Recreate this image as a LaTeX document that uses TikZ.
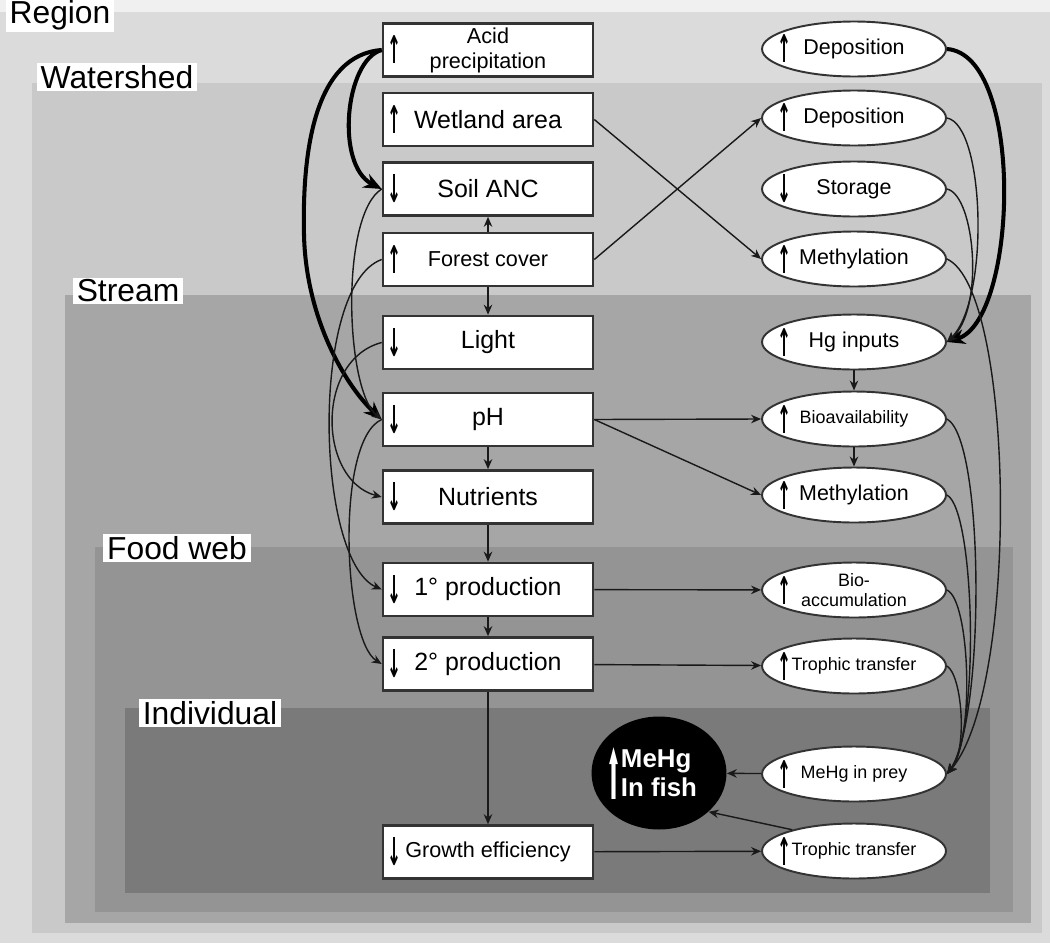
\documentclass[tikz,border=0pt]{standalone}
\usepackage{fontspec}
\usepackage{graphicx}
\setmainfont{Liberation Sans}
\newfontfamily\symfont{DejaVu Sans}
\usetikzlibrary{arrows.meta,shapes.geometric}

\definecolor{sheet}{gray}{0.94}
\definecolor{regionbg}{gray}{0.86}
\definecolor{watershedbg}{gray}{0.79}
\definecolor{streambg}{gray}{0.65}
\definecolor{foodwebbg}{gray}{0.58}
\definecolor{individualbg}{gray}{0.48}
\definecolor{edge}{gray}{0.2}

\newcommand\bigtxt{\fontsize{14.2}{16}\selectfont}
\newcommand\midtxt{\fontsize{12.3}{14.2}\selectfont}
\newcommand\ovaltxt{\fontsize{12.2}{14}\selectfont}
\newcommand\smalltxt{\fontsize{10.2}{11.4}\selectfont}
\newcommand\zonetxt{\fontsize{18.1}{20}\selectfont}
\newcommand\uparr{\resizebox{0.28cm}{0.56cm}{\symfont\bfseries ↑}}
\newcommand\dnarr{\resizebox{0.28cm}{0.56cm}{\symfont\bfseries ↓}}
\newcommand\fisharr{\resizebox{0.3cm}{1.04cm}{\symfont ⬆}}

\begin{document}
\begin{tikzpicture}[
  x=0.02cm, y=-0.02cm,
  >={Stealth[length=2mm,width=1.7mm]},
  zonelabel/.style={fill=white, inner xsep=0.08cm, inner ysep=0.04cm, font=\zonetxt},
  factor/.style={draw=edge, line width=1.5pt, fill=white, minimum width=4.2cm,
    minimum height=1.06cm, inner sep=1pt, align=center, font=\bigtxt},
  process/.style={ellipse, draw=edge, line width=1.1pt, fill=white, minimum width=3.68cm,
    minimum height=1.1cm, inner sep=0pt, align=center, font=\ovaltxt},
  incr/.style={label={[anchor=west,inner sep=0pt,xshift=#1]west:\uparr}},
  incr/.default=0.11cm,
  decr/.style={label={[anchor=west,inner sep=0pt,xshift=#1]west:\dnarr}},
  decr/.default=0.11cm,
  link/.style={->, line width=0.8pt, draw=black!90},
  heavy/.style={-{Stealth[length=3.6mm,width=3mm]}, line width=2.3pt, draw=black}
]
\useasboundingbox (0,0) rectangle (1050,943);

% ------------------------------------------------------------
% Nested scales
% ------------------------------------------------------------
\fill[sheet] (0,0) rectangle (1050,943);
\fill[regionbg] (0,12) rectangle (1050,943);
\fill[watershedbg] (32,83) rectangle (1042,933);
\fill[streambg] (65,295) rectangle (1031,923);
\fill[foodwebbg] (95,547) rectangle (1013,912);
\fill[individualbg] (125,708) rectangle (990,893);

\node[zonelabel] (lregion) at (60,15) {Region};
\node[zonelabel] (lwatershed) at (117,77) {Watershed};
\node[zonelabel] (lstream) at (128,291) {Stream};
\node[zonelabel] (lfoodweb) at (177,548) {Food web};
\node[zonelabel] (lindividual) at (210,713) {Individual};

% ------------------------------------------------------------
% Ecosystem factors (left column)
% ------------------------------------------------------------
\node[factor, incr, font=\midtxt] (acid) at (488,50) {Acid\\precipitation};
\node[factor, incr] (wetland) at (488,119.5) {Wetland area};
\node[factor, decr] (soilanc) at (488,189) {Soil ANC};
\node[factor, incr, font=\midtxt] (forest) at (488,259.5) {Forest cover};
\node[factor, decr] (light) at (488,342.5) {Light};
\node[factor, decr] (ph) at (488,419.5) {pH};
\node[factor, decr] (nutr) at (488,497) {Nutrients};
\node[factor, decr] (prodone) at (488,589.5) {1° production};
\node[factor, decr] (prodtwo) at (488,664) {2° production};
\node[factor, decr, font=\midtxt] (growth) at (488,852) {Growth efficiency};

% ------------------------------------------------------------
% Mercury processes (right column)
% ------------------------------------------------------------
\node[process, incr=0.33cm] (depoa) at (854,49) {Deposition};
\node[process, incr=0.33cm] (depob) at (854,118) {Deposition};
\node[process, decr=0.33cm] (storage) at (854,189) {Storage};
\node[process, incr=0.33cm] (methya) at (854,259) {Methylation};
\node[process, incr=0.33cm] (hginp) at (854,342) {Hg inputs};
\node[process, incr=0.33cm, font=\smalltxt] (bioav) at (854,419) {Bioavailability};
\node[process, incr=0.33cm] (methyb) at (854,495) {Methylation};
\node[process, incr=0.33cm, font=\smalltxt] (bioacc) at (854,590) {Bio-\\accumulation};
\node[process, incr=0.33cm, font=\smalltxt] (tropha) at (854,666) {Trophic transfer};
\node[process, incr=0.33cm, font=\smalltxt] (mehgprey) at (854,774) {MeHg in prey};
\node[process, incr=0.33cm, font=\smalltxt] (trophb) at (854,851) {Trophic transfer};

\node[ellipse, fill=black, minimum width=2.7cm, minimum height=2.26cm, inner sep=0pt,
  text=white, align=left, font=\fontsize{14.7}{16.4}\selectfont\bfseries,
  label={[anchor=west,inner sep=0pt,xshift=0.3cm,text=white]west:\fisharr}]
  (fish) at (659,773) {MeHg\\In fish};

% ------------------------------------------------------------
% Straight links
% ------------------------------------------------------------
\draw[link] (forest) -- (soilanc);
\draw[link] (forest) -- (light);
\draw[link] (ph) -- (nutr);
\draw[link] (nutr) -- (prodone);
\draw[link] (prodone) -- (prodtwo);
\draw[link] (prodtwo) -- (growth);
\draw[link] (hginp) -- (bioav);
\draw[link] (bioav) -- (methyb);

\draw[link] (wetland.east) -- (methya.west);
\draw[link] (forest.east) -- (depob.west);
\draw[link] (ph.east) -- (bioav.west);
\draw[link] (ph.east) -- (methyb.west);
\draw[link] (prodone) -- (bioacc);
\draw[link] (prodtwo) -- (tropha);
\draw[link] (growth) -- (trophb);
\draw[link] (mehgprey) -- (fish);
\draw[link] (trophb.161) -- (fish.-38);

% ------------------------------------------------------------
% Curved links, left side
% ------------------------------------------------------------
\coordinate (acidbend) at (304,235);
\draw[heavy] (acid.west) .. controls (345,60) and (335,165) .. (soilanc.west);
\draw[heavy] (acid.west) .. controls (315,55) and (302,150) .. (acidbend)
  .. controls (306,318) and (345,385) .. (ph.west);
\draw[link] (soilanc.west) .. controls (340,215) and (345,390) .. (ph.west);
\draw[link] (forest.west) .. controls (310,285) and (315,560) .. (prodone.west);
\draw[link] (light.west) .. controls (315,360) and (318,480) .. (nutr.west);
\draw[link] (ph.west) .. controls (335,440) and (343,640) .. (prodtwo.west);

% ------------------------------------------------------------
% Curved links, right side
% ------------------------------------------------------------
\draw[heavy] (depoa.east) .. controls (1025,55) and (1018,320) .. (hginp.east);
\draw[link] (depob.east) .. controls (985,125) and (990,300) .. (hginp.east);
\draw[link] (storage.east) .. controls (975,195) and (985,310) .. (hginp.east);
\draw[link] (methya.east) .. controls (1015,290) and (1020,690) .. (mehgprey.east);
\draw[link] (bioav.east) .. controls (985,440) and (985,720) .. (mehgprey.east);
\draw[link] (methyb.east) .. controls (975,510) and (980,730) .. (mehgprey.east);
\draw[link] (bioacc.east) .. controls (970,600) and (975,740) .. (mehgprey.east);
\draw[link] (tropha.east) .. controls (962,675) and (968,750) .. (mehgprey.east);

\end{tikzpicture}
\end{document}
